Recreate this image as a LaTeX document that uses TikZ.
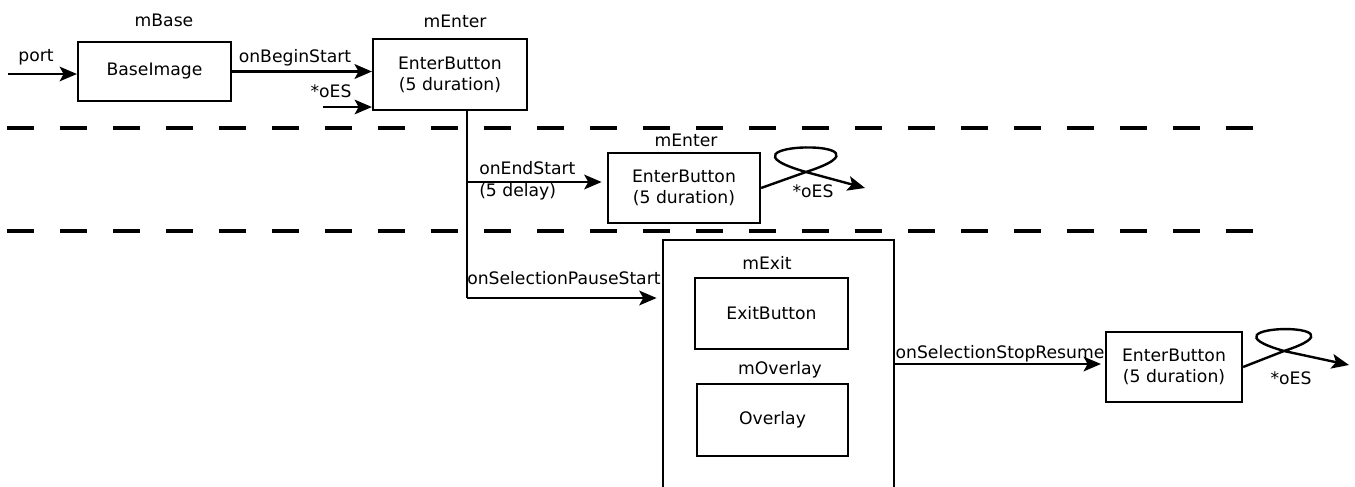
\documentclass[tikz,border=0pt]{standalone}
\usepackage{fontspec}
\setmainfont{DejaVu Sans}
\usetikzlibrary{arrows.meta}
\begin{document}
\begin{tikzpicture}[x=0.75pt,y=0.75pt,
  every node/.style={font=\fontsize{12.9}{15.75}\selectfont},
  box/.style={draw, line width=1.6pt, inner sep=0pt, align=center},
  lbl/.style={inner sep=0pt, text height=0.73em, text depth=0pt},
  conn/.style={line width=1.8pt, -{Stealth[length=13pt,width=11pt,inset=3pt]}},
  wire/.style={line width=1.3pt},
  lane/.style={line width=3pt, dash pattern=on 20.25pt off 19.5pt}]
\useasboundingbox (0,0) rectangle (1355,-486);
\clip (0,0) rectangle (1355,-486);

% lane separators
\draw[lane] (7,-128) -- (1253,-128);
\draw[lane] (7,-231) -- (1253,-231);

% modules
\node[box, minimum width=114.75pt, minimum height=44.25pt] (base) at (154.5,-71.5) {BaseImage};
\node[box, minimum width=115.5pt, minimum height=53.25pt] (enter1) at (450,-74.5) {EnterButton\\(5 duration)};
\node[box, minimum width=114pt, minimum height=52.5pt] (enter2) at (684,-188) {EnterButton\\(5 duration)};
\node[box, minimum width=173.25pt, minimum height=217.5pt] (group) at (778.5,-385) {};
\node[box, minimum width=114.75pt, minimum height=53.25pt] (exitbtn) at (771.5,-313.5) {ExitButton};
\node[box, minimum width=113.25pt, minimum height=54pt] (overlay) at (772.5,-420) {Overlay};
\node[box, minimum width=102pt, minimum height=52.5pt] (enter3) at (1174,-367) {EnterButton\\(5 duration)};

% module names
\node[lbl] (nbase) at (164,-22) {mBase};
\node[lbl] (nenter1) at (455,-23) {mEnter};
\node[lbl] (nenter2) at (686,-142) {mEnter};
\node[lbl] (nexit) at (767,-265) {mExit};
\node[lbl] (noverlay) at (780,-370) {mOverlay};

% inputs of the first lane
\coordinate (pin) at (8,-74);
\coordinate (oin) at (323,-107);
\draw[conn, line width=1.4pt] (pin) -- (base.west |- pin);
\draw[conn, line width=2.3pt] (base.east) -- (enter1.west |- base.east);
\draw[conn, line width=1.6pt] (oin) -- (enter1.west |- oin);
\node[lbl] (lport) at (36,-57) {port};
\node[lbl] (lbegin) at (295,-58) {onBeginStart};
\node[lbl] (loes1) at (331,-93) {*oES};

% branch from the first EnterButton
\coordinate (j1) at (467,-182);
\coordinate (j2) at (467,-298);
\draw[wire] (enter1.south -| j2) -- (j2);
\draw[conn, shorten >=4pt] (j1) -- (enter2.west |- j1);
\draw[conn, shorten >=4pt] (j2) -- (group.west |- j2);
\node[lbl, anchor=west] (lend) at (479,-170) {onEndStart};
\node[lbl, anchor=west] (ldelay) at (479,-192) {(5 delay)};
\node[lbl, anchor=west] (lpause) at (467,-280) {onSelectionPauseStart};

% resume path
\coordinate (r1) at (0,-364);
\draw[conn, shorten >=3pt] (group.east |- r1) -- (enter3.west |- r1);
\node[lbl] (lresume) at (1000,-354) {onSelectionStopResume};

% self loops
\coordinate (x2) at (806,-172);
\coordinate (t2) at (865,-188);
\draw[conn] (enter2.east) -- (x2) .. controls +(18:112) and +(164:112) .. (x2) -- (t2);
\node[lbl] (loes2) at (813,-193) {*oES};

\coordinate (x3) at (1284,-351);
\coordinate (t3) at (1349,-365);
\draw[conn] (enter3.east) -- (x3) .. controls +(18:100) and +(164:100) .. (x3) -- (t3);
\node[lbl] (loes3) at (1291,-380) {*oES};
\end{tikzpicture}
\end{document}
